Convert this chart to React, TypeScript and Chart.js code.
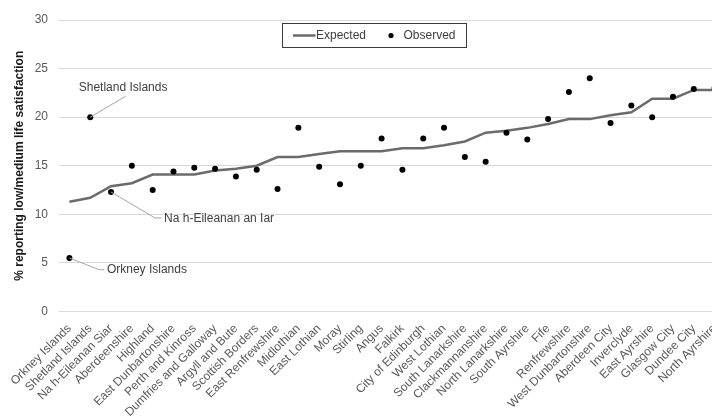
import { useEffect, useRef } from "react";
import { Chart, registerables } from "chart.js";

Chart.register(...registerables);

// Scottish council areas, ordered by expected rate
const councils = [
  "Orkney Islands",
  "Shetland Islands",
  "Na h-Eileanan Siar",
  "Aberdeenshire",
  "Highland",
  "East Dunbartonshire",
  "Perth and Kinross",
  "Dumfries and Galloway",
  "Argyll and Bute",
  "Scottish Borders",
  "East Renfrewshire",
  "Midlothian",
  "East Lothian",
  "Moray",
  "Stirling",
  "Angus",
  "Falkirk",
  "City of Edinburgh",
  "West Lothian",
  "South Lanarkshire",
  "Clackmannanshire",
  "North Lanarkshire",
  "South Ayrshire",
  "Fife",
  "Renfrewshire",
  "West Dunbartonshire",
  "Aberdeen City",
  "Inverclyde",
  "East Ayrshire",
  "Glasgow City",
  "Dundee City",
  "North Ayrshire",
];

const expected = [
  11.3, 11.7, 12.9, 13.2, 14.1, 14.1, 14.1, 14.5, 14.7, 15.0, 15.9, 15.9, 16.2,
  16.5, 16.5, 16.5, 16.8, 16.8, 17.1, 17.5, 18.4, 18.6, 18.9, 19.3, 19.8, 19.8,
  20.2, 20.5, 21.9, 21.9, 22.8, 22.8,
];

const observed = [
  5.5, 20.0, 12.3, 15.0, 12.5, 14.4, 14.8, 14.7, 13.9, 14.6, 12.6, 18.9, 14.9,
  13.1, 15.0, 17.8, 14.6, 17.8, 18.9, 15.9, 15.4, 18.4, 17.7, 19.8, 22.6, 24.0,
  19.4, 21.2, 20.0, 22.1, 22.9, 23.0,
];

const yMin = 0;
const yMax = 30;
const yStep = 5;

const FONT = '"Liberation Sans", Arial, sans-serif';
const LINE_COLOR = "#6b6b6b";
const TEXT_DARK = "#404040";

// Labelled outliers: leader goes from the dot to an elbow, then a short run to the text
type Callout = {
  council: string;
  text: string;
  elbow: [number, number];
  end: [number, number];
  textAt: [number, number];
};

const callouts: Callout[] = [
  {
    council: "Shetland Islands",
    text: "Shetland Islands",
    elbow: [35.5, -21],
    end: [35.5, -21],
    textAt: [-11.5, -29],
  },
  {
    council: "Na h-Eileanan Siar",
    text: "Na h-Eileanan an Iar",
    elbow: [44, 26],
    end: [50, 26],
    textAt: [53, 27],
  },
  {
    council: "Orkney Islands",
    text: "Orkney Islands",
    elbow: [30, 11.7],
    end: [35, 11.7],
    textAt: [37.5, 11.7],
  },
];

const calloutPlugin = {
  id: "callouts",
  afterDatasetsDraw(chart: any) {
    const { ctx, scales } = chart;
    ctx.save();
    for (const c of callouts) {
      const i = councils.indexOf(c.council);
      const px = scales.x.getPixelForValue(i);
      const py = scales.y.getPixelForValue(observed[i]);
      ctx.strokeStyle = "#a6a6a6";
      ctx.lineWidth = 1;
      ctx.beginPath();
      ctx.moveTo(px, py);
      ctx.lineTo(px + c.elbow[0], py + c.elbow[1]);
      ctx.lineTo(px + c.end[0], py + c.end[1]);
      ctx.stroke();
      ctx.fillStyle = TEXT_DARK;
      ctx.font = `12px ${FONT}`;
      ctx.textAlign = "left";
      ctx.textBaseline = "middle";
      ctx.fillText(c.text, px + c.textAt[0], py + c.textAt[1]);
    }
    ctx.restore();
  },
};

const legendPlugin = {
  id: "boxLegend",
  afterDraw(chart: any) {
    const { ctx } = chart;
    const left = 282.5;
    const top = 23.5;
    const w = 184;
    const h = 24;
    const cy = top + h / 2;
    ctx.save();
    ctx.fillStyle = "#ffffff";
    ctx.fillRect(left, top, w, h);
    ctx.strokeStyle = "#3a3a3a";
    ctx.lineWidth = 1;
    ctx.strokeRect(left, top, w, h);

    ctx.strokeStyle = LINE_COLOR;
    ctx.lineWidth = 2.5;
    ctx.beginPath();
    ctx.moveTo(left + 10.5, cy);
    ctx.lineTo(left + 33, cy);
    ctx.stroke();

    ctx.font = `12px ${FONT}`;
    ctx.fillStyle = TEXT_DARK;
    ctx.textAlign = "left";
    ctx.textBaseline = "middle";
    ctx.fillText(chart.data.datasets[1].label, left + 33.5, cy);

    ctx.fillStyle = "#000000";
    ctx.beginPath();
    ctx.arc(left + 108.5, cy, 2.6, 0, Math.PI * 2);
    ctx.fill();

    ctx.fillStyle = TEXT_DARK;
    ctx.fillText(chart.data.datasets[0].label, left + 121, cy);
    ctx.restore();
  },
};

export default function App() {
  const canvasRef = useRef<HTMLCanvasElement | null>(null);

  useEffect(() => {
    const canvas = canvasRef.current;
    if (!canvas) return;
    const chart = new Chart(canvas, {
      type: "line",
      data: {
        labels: councils,
        datasets: [
          {
            label: "Observed",
            data: observed,
            showLine: false,
            pointRadius: 3,
            pointBorderWidth: 0,
            pointBackgroundColor: "#000000",
            pointBorderColor: "#000000",
            borderColor: "#000000",
            backgroundColor: "#000000",
            order: 0,
          },
          {
            label: "Expected",
            data: expected,
            borderColor: LINE_COLOR,
            borderWidth: 2.5,
            pointRadius: 0,
            tension: 0,
            fill: false,
            order: 1,
          },
        ],
      },
      options: {
        responsive: false,
        animation: false,
        devicePixelRatio: 1,
        layout: {
          autoPadding: false,
          padding: { top: 20, left: 0, right: 0, bottom: 0 },
        },
        plugins: {
          legend: { display: false },
          tooltip: { enabled: false },
        },
        scales: {
          x: {
            type: "category",
            offset: true,
            grid: { display: false, drawTicks: false },
            border: { display: false },
            ticks: {
              autoSkip: false,
              minRotation: 45,
              maxRotation: 45,
              padding: 10,
              color: "#595959",
              font: { family: FONT, size: 12 },
            },
            afterFit(scale: any) {
              scale.height = 105.5;
              // let the plot run to the canvas edges; rotated labels may overhang
              scale.paddingLeft = 0;
              scale.paddingRight = 0;
            },
          },
          y: {
            min: yMin,
            max: yMax,
            ticks: {
              stepSize: yStep,
              padding: 11,
              color: "#595959",
              font: { family: FONT, size: 12 },
            },
            grid: { color: "#d9d9d9", lineWidth: 1, drawTicks: false },
            border: { display: false },
            title: {
              display: true,
              text: "% reporting low/medium life satisfaction",
              color: "#1a1a1a",
              font: { family: FONT, size: 12, weight: "bold" },
              padding: { top: 12, bottom: 0 },
            },
            afterFit(scale: any) {
              scale.width = 59;
            },
          },
        },
      },
      plugins: [calloutPlugin, legendPlugin],
    });
    return () => chart.destroy();
  }, []);

  return (
    <div
      style={{
        position: "fixed",
        left: 0,
        top: 0,
        width: 712,
        height: 417,
        overflow: "hidden",
        background: "#ffffff",
      }}
    >
      <canvas ref={canvasRef} width={725} height={417} style={{ display: "block" }} />
    </div>
  );
}
